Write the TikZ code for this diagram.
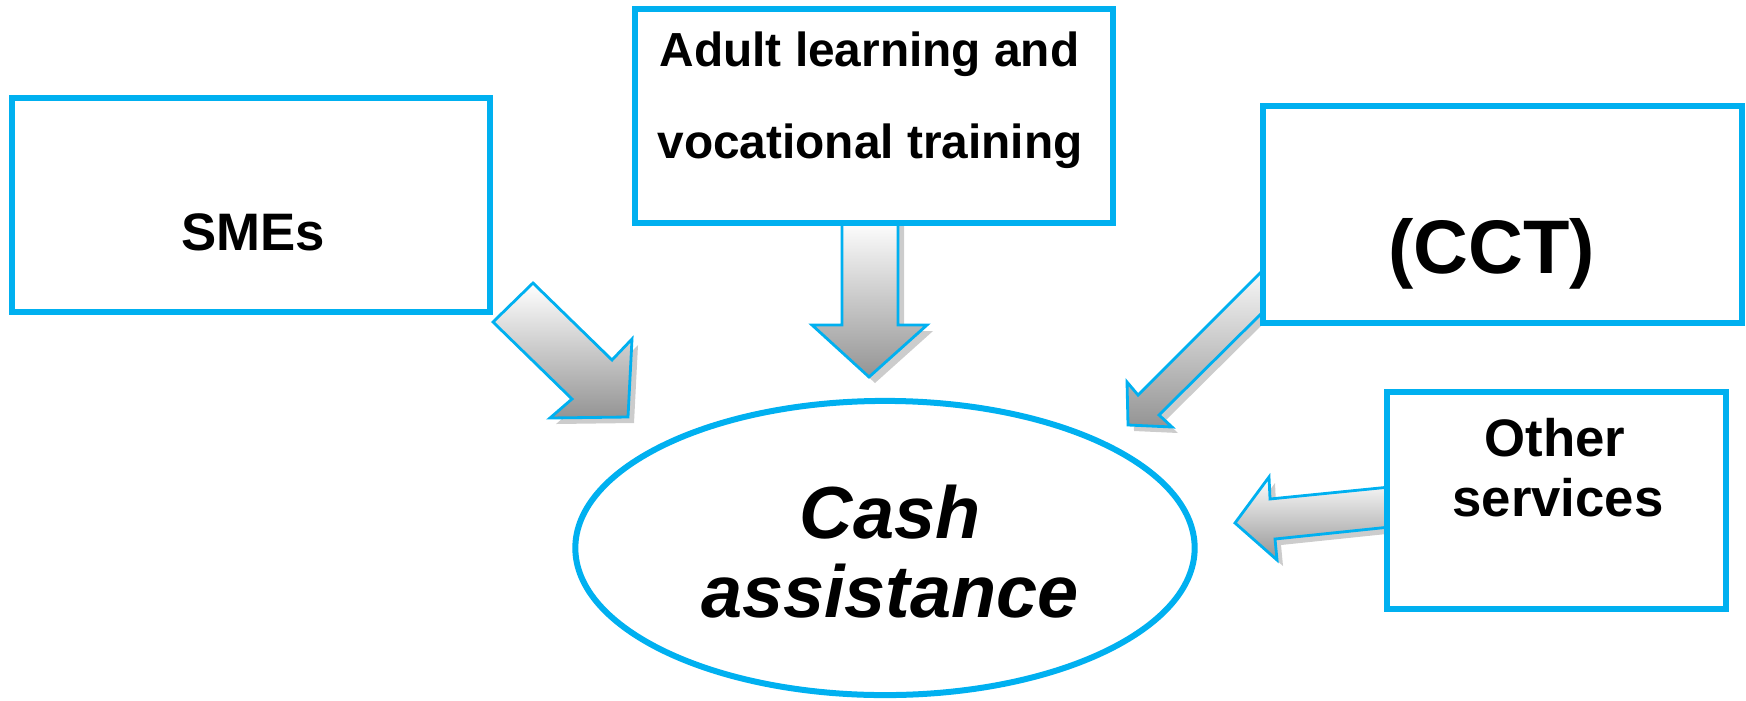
\documentclass[tikz,border=0pt]{standalone}
\usepackage{fontspec}
\setmainfont{Liberation Sans}
\usetikzlibrary{shadows,shapes.geometric}
\definecolor{cyanline}{HTML}{00B0F0}
\tikzset{
  boxnode/.style={draw=cyanline, line width=0.06cm, fill=white, rectangle, inner sep=0pt},
  blockarrow/.style={draw=cyanline, line width=0.8pt, line join=miter, top color=white, bottom color=black!42,
    drop shadow={shadow xshift=0.06cm, shadow yshift=-0.06cm, fill=black, opacity=0.2}},
  txt/.style={anchor=base, inner sep=0pt, font=\bfseries},
}
\begin{document}
\begin{tikzpicture}[x=0.01cm, y=-0.01cm]
\useasboundingbox (0,0) rectangle (1746,700);
% block arrows
\path[blockarrow] (493,322) -- (533,283) -- (612,360) -- (632,339) -- (628,417) -- (550,418) -- (572,399) -- cycle;
\path[blockarrow] (842,220) -- (898,220) -- (898,325) -- (927,325) -- (869,377) -- (812,325) -- (842,325) -- cycle;
\path[blockarrow] (1275,258) -- (1138,395) -- (1127,382) -- (1128,425) -- (1172,427) -- (1159,415) -- (1275,300) -- cycle;
\path[blockarrow] (1390,487) -- (1270,499) -- (1269,477) -- (1235,523) -- (1277,560) -- (1275,539) -- (1390,527) -- cycle;
% boxes
\node[boxnode, minimum width=4.78cm, minimum height=2.14cm] (sme) at (251,205) {};
\node[boxnode, minimum width=4.78cm, minimum height=2.14cm] (adult) at (874,116) {};
\node[boxnode, minimum width=4.79cm, minimum height=2.17cm] (cct) at (1502.5,214.5) {};
\node[boxnode, minimum width=3.39cm, minimum height=2.17cm] (other) at (1556.5,500.5) {};
\node[draw=cyanline, line width=0.06cm, fill=white, ellipse, minimum width=6.19cm, minimum height=2.94cm, inner sep=0pt] (cash) at (885,548) {};
% texts
\node[txt, font=\fontsize{15}{18}\selectfont\bfseries] (tsme) at (253,250) {SMEs};
\node[txt, font=\fontsize{13.6}{16}\selectfont\bfseries] (tadult1) at (869.5,67) {Adult learning and};
\node[txt, font=\fontsize{13.6}{16}\selectfont\bfseries] (tadult2) at (870,158) {vocational training};
\node[txt, font=\fontsize{21.6}{25}\selectfont\bfseries] (tcct) at (1491.5,273) {(CCT)};
\node[txt, font=\fontsize{15}{18}\selectfont\bfseries] (tother1) at (1555,456) {Other};
\node[txt, font=\fontsize{15}{18}\selectfont\bfseries] (tother2) at (1558,516) {services};
\node[txt, font=\fontsize{21}{25}\selectfont\bfseries\itshape] (tcash1) at (890,538) {Cash};
\node[txt, font=\fontsize{21}{25}\selectfont\bfseries\itshape] (tcash2) at (890,617) {assistance};
\end{tikzpicture}
\end{document}
